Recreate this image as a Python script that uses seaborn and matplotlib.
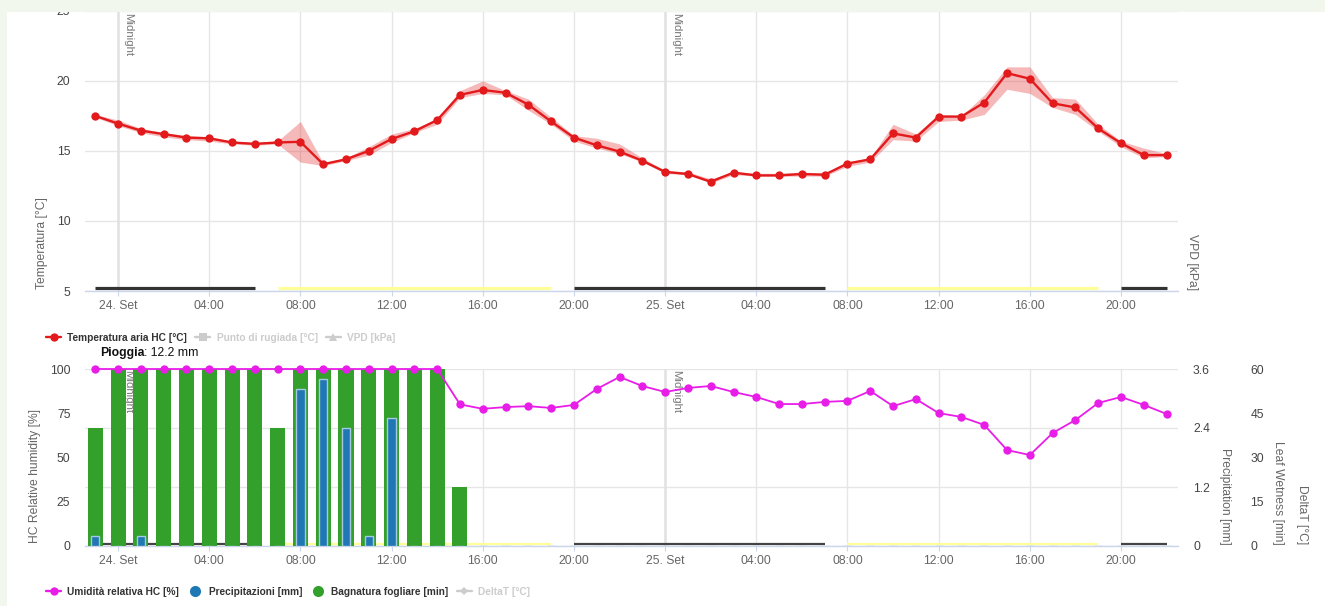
import numpy as np
import pandas as pd
import matplotlib
matplotlib.use("Agg")
import matplotlib.pyplot as plt
import seaborn as sns
from matplotlib.lines import Line2D
from matplotlib.patches import Rectangle
import matplotlib.transforms as mtransforms

# ---------------- data ----------------
hours = list(range(-1, 47))  # 23:00 of 23 Sep -> 22:00 of 25 Sep (hour 0 = midnight 24 Sep)

temp = [17.5, 16.95, 16.45, 16.2, 15.95, 15.9, 15.6, 15.5, 15.6, 15.65,
        14.05, 14.4, 15.0, 15.85, 16.4, 17.2, 19.0, 19.35, 19.15, 18.3,
        17.1, 15.95, 15.4, 14.95, 14.3, 13.5, 13.35, 12.8, 13.45, 13.25,
        13.25, 13.35, 13.3, 14.1, 14.4, 16.25, 15.95, 17.45, 17.45, 18.45,
        20.55, 20.15, 18.4, 18.1, 16.6, 15.55, 14.7, 14.7]
temp_low = [17.4, 16.8, 16.3, 16.0, 15.8, 15.7, 15.5, 15.4, 15.5, 14.2,
            13.95, 14.3, 14.7, 15.6, 16.3, 16.9, 18.8, 19.1, 19.0, 17.9,
            16.9, 15.7, 15.2, 14.8, 14.2, 13.4, 13.3, 12.7, 13.3, 13.2,
            13.2, 13.2, 13.2, 13.9, 14.2, 15.8, 15.7, 17.1, 17.2, 17.6,
            19.4, 19.1, 18.1, 17.6, 16.4, 15.3, 14.5, 14.6]
temp_high = [17.6, 17.2, 16.6, 16.3, 16.1, 16.0, 15.7, 15.6, 15.7, 17.1,
             14.15, 14.5, 15.3, 16.2, 16.6, 17.3, 19.3, 20.0, 19.3, 18.7,
             17.4, 16.1, 15.9, 15.5, 14.5, 13.6, 13.5, 13.0, 13.5, 13.4,
             13.4, 13.5, 13.4, 14.2, 14.5, 16.9, 16.2, 17.6, 17.5, 19.0,
             21.0, 21.0, 18.8, 18.7, 16.9, 15.7, 15.2, 14.8]

humidity = [100] * 16 + [80, 77.5, 78.5, 79, 78, 79.7, 88.7, 95.5, 90.4, 87,
                         89.3, 90.4, 87, 84.2, 80.2, 80.2, 81.4, 82, 87.6, 79,
                         83, 75.1, 72.9, 68.4, 54.2, 51.4, 63.8, 71.2, 80.8, 84.2,
                         79.7, 74.6]

leaf_wetness = [40, 60, 60, 60, 60, 60, 60, 60, 40, 60, 60, 60, 60, 60, 60, 60, 20] + [0] * 31

precip = [0.2, 0, 0.2, 0, 0, 0, 0, 0, 0, 3.2, 3.4, 2.4, 0.2, 2.6] + [0] * 34

tick_hours = list(range(0, 48, 4))
tick_labels = ["24. Set", "04:00", "08:00", "12:00", "16:00", "20:00",
               "25. Set", "04:00", "08:00", "12:00", "16:00", "20:00"]
midnights = [0, 24]
night_periods = [(-1, 6), (20, 31), (44, 46)]
day_periods = [(7, 19), (32, 43)]
top_indicator_level = 5.2
bottom_indicator_level = 0.04

temp_ticks = [5, 10, 15, 20, 25]
hum_ticks = [0, 25, 50, 75, 100]
prec_ticks = [0, 1.2, 2.4, 3.6]
leaf_ticks = [0, 15, 30, 45, 60]

df = pd.DataFrame({"hour": hours, "temp": temp, "low": temp_low, "high": temp_high,
                   "humidity": humidity, "leaf": leaf_wetness, "precip": precip})

# ---------------- style ----------------
sns.set_theme(style="white")
plt.rcParams["font.family"] = ["Liberation Sans", "DejaVu Sans"]

RED = "#e31a1c"
MAG = "#e81ee8"
GREEN = "#33a02c"
BLUE = "#1f78b4"
GRID = "#e6e6e6"
AXLINE = "#ccd6eb"
LIGHT = "#cccccc"
FS = 8.7

W, H = 1325, 606
fig = plt.figure(figsize=(W / 100, H / 100), dpi=100)
fig.patch.set_facecolor("white")


def fx(px):
    return px / W


def fy(py):
    return 1 - py / H


L, R = 85, 1178
ax_t = fig.add_axes([fx(L), fy(291), fx(R) - fx(L), (291 - 10.8) / H])
ax_p = fig.add_axes([fx(L), fy(546), fx(R) - fx(L), (546 - 369) / H])
ax_l = ax_p.twinx()
ax_p2 = ax_p.twinx()
ax_h = ax_p.twinx()
ax_p.set_zorder(0)
ax_l.set_zorder(1)
ax_p2.set_zorder(2)
ax_h.set_zorder(3)
for a in (ax_l, ax_p2, ax_h):
    a.patch.set_visible(False)

XLIM = (-1.45, 46.5)

# ---------------- top chart ----------------
ax_t.fill_between(df["hour"], df["low"], df["high"], color=RED, alpha=0.3, lw=0, zorder=2)
sns.lineplot(data=df, x="hour", y="temp", ax=ax_t, color=RED, marker="o",
             markersize=6, markeredgewidth=0, linewidth=1.7, zorder=3)
for a, b in night_periods:
    ax_t.hlines(top_indicator_level, a, b, color="#333333", lw=2.3, zorder=2.5)
for a, b in day_periods:
    ax_t.hlines(top_indicator_level, a, b, color="#ffff99", lw=2.3, zorder=2.5)

ax_t.set_ylim(5, 25)
ax_t.set_yticks(temp_ticks)
ax_t.set_yticklabels([str(v) for v in temp_ticks])
ax_t.set_xticks(tick_hours)
ax_t.set_xticklabels(tick_labels)
ax_t.set_xlim(*XLIM)
ax_t.set_xlabel("")
ax_t.set_ylabel("")
ax_t.grid(True, color=GRID, lw=1)
ax_t.set_axisbelow(True)

# ---------------- bottom chart ----------------
sns.barplot(x=df["hour"], y=df["leaf"], ax=ax_l, native_scale=True, width=0.66,
            color=GREEN, saturation=1, errorbar=None, linewidth=0)
sns.barplot(x=df["hour"], y=df["precip"], ax=ax_p2, native_scale=True, width=0.36,
            color=BLUE, saturation=1, errorbar=None, linewidth=1, edgecolor="#a6c8e0")
sns.lineplot(data=df, x="hour", y="humidity", ax=ax_h, color=MAG, marker="o",
             markersize=6, markeredgewidth=0, linewidth=1.3)
for ln in ax_h.lines:
    ln.set_clip_on(False)

for a, b in night_periods:
    ax_p.hlines(bottom_indicator_level, a, b, color="#444444", lw=1.6, zorder=2)
for a, b in day_periods:
    ax_p.hlines(bottom_indicator_level, a, b, color="#ffff99", lw=1.6, zorder=2)

ax_p.set_ylim(0, 3.6)
ax_p2.set_ylim(0, 3.6)
ax_l.set_ylim(0, 60)
ax_h.set_ylim(0, 100)

ax_p.yaxis.tick_right()
ax_p.set_yticks(prec_ticks)
ax_p.set_yticklabels(["0", "1.2", "2.4", "3.6"])
ax_p.grid(True, color=GRID, lw=1)
ax_p.set_axisbelow(True)
ax_p.set_xticks(tick_hours)
ax_p.set_xticklabels(tick_labels)

ax_l.yaxis.tick_right()
ax_l.set_yticks(leaf_ticks)
ax_l.set_yticklabels([str(v) for v in leaf_ticks])
ax_p2.set_yticks([])
ax_h.yaxis.tick_left()
ax_h.set_yticks(hum_ticks)
ax_h.set_yticklabels([str(v) for v in hum_ticks])

for a in (ax_p, ax_l, ax_p2, ax_h):
    a.set_xlim(*XLIM)
    a.set_xlabel("")
    a.set_ylabel("")

# ---------------- axes cosmetics ----------------
for a in (ax_t, ax_p, ax_l, ax_p2, ax_h):
    for s in a.spines.values():
        s.set_visible(False)
for a in (ax_t, ax_p):
    a.spines["bottom"].set_visible(True)
    a.spines["bottom"].set_color(AXLINE)
    a.spines["bottom"].set_linewidth(1)
    a.tick_params(axis="x", length=3.6, width=0.8, color=AXLINE, labelcolor="#666666",
                  labelsize=FS, pad=3.2, bottom=True)

ax_t.tick_params(axis="y", length=0, pad=10.5, labelcolor="#444444", labelsize=FS)
ax_h.tick_params(axis="y", length=0, pad=10.5, labelcolor="#444444", labelsize=FS)
ax_p.tick_params(axis="y", length=0, pad=10.8, labelcolor="#444444", labelsize=FS)
ax_l.tick_params(axis="y", length=0, pad=52, labelcolor="#444444", labelsize=FS)

# midnight plot lines
for h in midnights:
    for a, ytop in ((ax_t, 13), (ax_p, 370)):
        a.axvline(h, color="#e2e2e2", lw=1.8, zorder=0.7)
        tr = mtransforms.blended_transform_factory(a.transData, fig.transFigure)
        a.annotate("Midnight", xy=(h, fy(ytop)), xycoords=tr, xytext=(4, 0),
                   textcoords="offset points", rotation=-90, ha="left", va="top",
                   fontsize=8.2, color="#777777", zorder=0.8, annotation_clip=False)

# axis titles
fig.text(fx(42), fy(243), "Temperatura [°C]", rotation=90, ha="center", va="center",
         fontsize=FS, color="#666666")
fig.text(fx(1192), fy(262), "VPD [kPa]", rotation=270, ha="center", va="center",
         fontsize=FS, color="#666666")
fig.text(fx(35), fy(476), "HC Relative humidity [%]", rotation=90, ha="center", va="center",
         fontsize=FS, color="#666666")
fig.text(fx(1225), fy(496), "Precipitation [mm]", rotation=270, ha="center", va="center",
         fontsize=FS, color="#666666")
fig.text(fx(1278), fy(493), "Leaf Wetness [min]", rotation=270, ha="center", va="center",
         fontsize=FS, color="#666666")
fig.text(fx(1302), fy(515), "DeltaT [°C]", rotation=270, ha="center", va="center",
         fontsize=FS, color="#666666")

# rain total
t1 = fig.text(fx(100), fy(353), "Pioggia", fontweight="bold", fontsize=8.8,
              color="#111111", ha="left", va="center")
ax_t.annotate(f": {sum(precip):.1f} mm", xy=(1, 0.5), xycoords=t1, ha="left", va="center",
              fontsize=8.8, color="#111111", annotation_clip=False)

# legends
leg_prop = {"weight": "bold", "size": 7.3}
h_top = [Line2D([], [], color=RED, marker="o", ms=6, mew=0, lw=1.7),
         Line2D([], [], color=LIGHT, marker="s", ms=5.5, mew=0, lw=1.7),
         Line2D([], [], color=LIGHT, marker="^", ms=6, mew=0, lw=1.7)]
l_top = ["Temperatura aria HC [°C]", "Punto di rugiada [°C]", "VPD [kPa]"]
leg1 = fig.legend(h_top, l_top, loc="center left", bbox_to_anchor=(fx(46), fy(338)),
                  ncol=3, frameon=False, prop=leg_prop, handlelength=1.5,
                  handletextpad=0.6, columnspacing=0.8, borderpad=0, borderaxespad=0)
for t, c in zip(leg1.get_texts(), ["#333333", LIGHT, LIGHT]):
    t.set_color(c)

h_bot = [Line2D([], [], color=MAG, marker="o", ms=6, mew=0, lw=1.7),
         Line2D([], [], color=BLUE, marker="o", ms=8, mew=0, ls=""),
         Line2D([], [], color=GREEN, marker="o", ms=8, mew=0, ls=""),
         Line2D([], [], color=LIGHT, marker="D", ms=4.5, mew=0, lw=1.7)]
l_bot = ["Umidità relativa HC [%]", "Precipitazioni [mm]", "Bagnatura fogliare [min]", "DeltaT [°C]"]
leg2 = fig.legend(h_bot, l_bot, loc="center left", bbox_to_anchor=(fx(46), fy(592)),
                  ncol=4, frameon=False, prop=leg_prop, handlelength=1.5,
                  handletextpad=0.6, columnspacing=0.8, borderpad=0, borderaxespad=0)
for t, c in zip(leg2.get_texts(), ["#333333", "#333333", "#333333", LIGHT]):
    t.set_color(c)

# page border (light green frame of the surrounding page)
BG = "#f2f7ee"
fig.add_artist(Rectangle((0, fy(12)), 1, 12 / H, transform=fig.transFigure,
                         facecolor=BG, edgecolor="none", zorder=20))
fig.add_artist(Rectangle((0, 0), 7 / W, 1, transform=fig.transFigure,
                         facecolor=BG, edgecolor="none", zorder=20))

fig.savefig("out.png", dpi=100)
